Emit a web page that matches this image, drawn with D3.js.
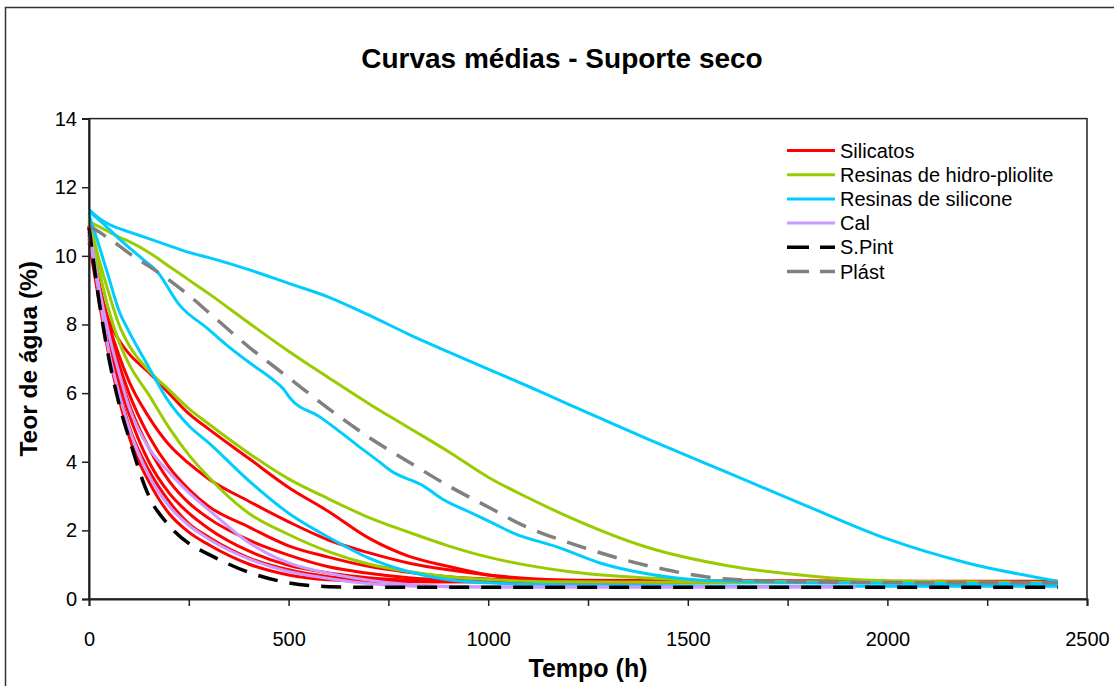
<!DOCTYPE html>
<html>
<head>
<meta charset="utf-8">
<script src="https://cdn.jsdelivr.net/npm/d3@7"></script>
<style>
  html, body { margin: 0; padding: 0; background: #fff; }
  svg { display: block; font-family: "Liberation Sans", Arial, sans-serif; }
</style>
</head>
<body>
<svg id="chart" width="1114" height="686"></svg>
<script>
// ---------------- DATA ----------------
const chartTitle = "Curvas médias - Suporte seco";
const xTitle = "Tempo (h)";
const yTitle = "Teor de água (%)";
const xTicks = [0, 250, 500, 750, 1000, 1250, 1500, 1750, 2000, 2250, 2500];
const xTickLabels = ["0", "", "500", "", "1000", "", "1500", "", "2000", "", "2500"];
const yTicks = [0, 2, 4, 6, 8, 10, 12, 14];
const yTickLabels = ["0", "2", "4", "6", "8", "10", "12", "14"];

const legendNames = ["Silicatos", "Resinas de hidro-pliolite", "Resinas de silicone", "Cal", "S.Pint", "Plást"];

// common time grid (h)
const timeGrid = [0, 25, 50, 75, 100, 150, 200, 250, 300, 400, 500, 600, 700, 800, 900, 1000, 1100, 1200, 1400, 1600, 1800, 2000, 2200, 2427];
const timeCal = [0, 25, 50, 75, 100, 150, 200, 250, 300, 400, 500, 600, 700, 800, 900, 1000, 1100, 1200, 1400, 1600, 1800, 1920];
const timeSilicone2 = [0, 30, 80, 130, 170, 228, 295, 345, 404, 460, 487, 504, 579, 620, 670, 729, 754, 837, 887, 950, 1005, 1063, 1172, 1280, 1405, 1530, 1656, 1800, 2000, 2200, 2427];

// Silicatos
const silicatos1 = [10.9, 9.2, 8.1, 7.55, 7.15, 6.6, 6.0, 5.4, 4.95, 4.1, 3.25, 2.55, 1.78, 1.25, 0.95, 0.7, 0.57, 0.55, 0.54, 0.53, 0.53, 0.52, 0.52, 0.52];
const silicatos2 = [10.8, 9.2, 8.0, 7.1, 6.35, 5.3, 4.5, 3.95, 3.5, 2.85, 2.25, 1.72, 1.35, 1.05, 0.85, 0.7, 0.6, 0.55, 0.52, 0.5, 0.5, 0.5, 0.5, 0.5];
const silicatos3 = [10.8, 9.1, 7.85, 6.85, 6.0, 4.75, 3.85, 3.2, 2.7, 2.1, 1.55, 1.22, 0.95, 0.78, 0.65, 0.58, 0.55, 0.52, 0.5, 0.5, 0.5, 0.5, 0.5, 0.5];
const silicatos4 = [10.7, 9.0, 7.7, 6.6, 5.7, 4.4, 3.45, 2.8, 2.35, 1.72, 1.28, 0.94, 0.75, 0.62, 0.55, 0.52, 0.5, 0.5, 0.5, 0.5, 0.5, 0.5, 0.5, 0.5];
const silicatos5 = [10.6, 8.9, 7.5, 6.35, 5.4, 4.0, 3.1, 2.5, 2.05, 1.4, 0.98, 0.76, 0.62, 0.55, 0.52, 0.5, 0.5, 0.5, 0.5, 0.5, 0.5, 0.5, 0.5, 0.5];
const silicatos6 = [10.5, 8.8, 7.3, 6.1, 5.05, 3.75, 2.85, 2.2, 1.8, 1.2, 0.85, 0.65, 0.56, 0.52, 0.5, 0.5, 0.5, 0.5, 0.5, 0.5, 0.5, 0.5, 0.5, 0.5];
const silicatos7 = [10.4, 8.7, 7.1, 5.85, 4.75, 3.42, 2.5, 1.95, 1.58, 1.02, 0.7, 0.56, 0.52, 0.5, 0.5, 0.5, 0.5, 0.5, 0.5, 0.5, 0.5, 0.5, 0.5, 0.5];

// Resinas de hidro-pliolite
const pliolite1 = [11.0, 10.85, 10.7, 10.55, 10.42, 10.1, 9.7, 9.3, 8.9, 8.05, 7.22, 6.45, 5.7, 5.0, 4.3, 3.55, 2.95, 2.4, 1.5, 0.97, 0.68, 0.53, 0.5, 0.48];
const pliolite2 = [11.1, 9.9, 8.9, 8.0, 7.4, 6.65, 6.1, 5.55, 5.1, 4.25, 3.5, 2.92, 2.38, 1.95, 1.55, 1.22, 0.98, 0.8, 0.61, 0.52, 0.5, 0.49, 0.48, 0.48];
const pliolite3 = [11.0, 9.6, 8.4, 7.5, 6.85, 5.95, 5.0, 4.2, 3.55, 2.5, 1.88, 1.38, 1.02, 0.8, 0.65, 0.57, 0.52, 0.5, 0.49, 0.48, 0.48, 0.48, 0.48, 0.48];

// Resinas de silicone
const silicone1 = [11.35, 11.1, 10.92, 10.8, 10.7, 10.5, 10.3, 10.1, 9.95, 9.6, 9.2, 8.8, 8.28, 7.72, 7.2, 6.7, 6.2, 5.68, 4.66, 3.68, 2.7, 1.75, 1.05, 0.52];
const silicone2 = [11.3, 11.0, 10.45, 9.95, 9.55, 8.55, 7.9, 7.4, 6.87, 6.4, 6.12, 5.85, 5.3, 4.95, 4.5, 3.98, 3.75, 3.3, 2.9, 2.55, 2.25, 1.92, 1.52, 1.05, 0.72, 0.55, 0.5, 0.47, 0.46, 0.45, 0.45];
const silicone3 = [11.2, 10.3, 9.35, 8.4, 7.8, 6.75, 5.75, 5.05, 4.55, 3.45, 2.5, 1.8, 1.2, 0.8, 0.56, 0.47, 0.43, 0.41, 0.39, 0.38, 0.37, 0.37, 0.37, 0.37];

// Cal
const cal1 = [10.6, 8.9, 7.2, 6.0, 5.0, 3.6, 2.72, 2.15, 1.75, 1.17, 0.8, 0.6, 0.45, 0.38, 0.36, 0.35, 0.35, 0.35, 0.35, 0.35, 0.35, 0.35];
const cal2 = [10.9, 9.1, 7.7, 6.6, 5.6, 4.4, 3.7, 3.1, 2.6, 1.65, 1.05, 0.75, 0.55, 0.42, 0.37, 0.35, 0.35, 0.35, 0.35, 0.35, 0.35, 0.35];

// S.Pint and Plást
const sPint = [10.85, 8.7, 7.0, 5.7, 4.7, 3.0, 2.15, 1.62, 1.3, 0.78, 0.47, 0.36, 0.34, 0.34, 0.34, 0.34, 0.34, 0.34, 0.34, 0.34, 0.34, 0.34, 0.34, 0.34];
const plast = [10.88, 10.7, 10.5, 10.3, 10.08, 9.7, 9.3, 8.85, 8.35, 7.35, 6.45, 5.55, 4.72, 4.0, 3.3, 2.68, 2.08, 1.65, 0.97, 0.58, 0.5, 0.48, 0.47, 0.47];

// colours
const cRed = "#FF0000", cGreen = "#99CC00", cCyan = "#00CCFF", cPurple = "#CC99FF", cBlack = "#000000", cGray = "#808080";

// series table built from the arrays above (drawing order)
const series = [
  { t: timeGrid, v: silicatos1, color: cRed },
  { t: timeGrid, v: silicatos2, color: cRed },
  { t: timeGrid, v: silicatos3, color: cRed },
  { t: timeGrid, v: silicatos4, color: cRed },
  { t: timeGrid, v: silicatos5, color: cRed },
  { t: timeGrid, v: silicatos6, color: cRed },
  { t: timeGrid, v: silicatos7, color: cRed },
  { t: timeGrid, v: pliolite1, color: cGreen },
  { t: timeGrid, v: pliolite2, color: cGreen },
  { t: timeGrid, v: pliolite3, color: cGreen },
  { t: timeGrid, v: silicone1, color: cCyan },
  { t: timeSilicone2, v: silicone2, color: cCyan },
  { t: timeGrid, v: silicone3, color: cCyan },
  { t: timeCal, v: cal1, color: cPurple },
  { t: timeCal, v: cal2, color: cPurple },
  { t: timeGrid, v: sPint, color: cBlack, dash: true },
  { t: timeGrid, v: plast, color: cGray, dash: true }
];
const legendStyles = [
  { color: cRed }, { color: cGreen }, { color: cCyan }, { color: cPurple },
  { color: cBlack, dash: true }, { color: cGray, dash: true }
];

// ---------------- LAYOUT ----------------
const svg = d3.select("#chart");
const plot = { left: 89, right: 1087, top: 118.6, bottom: 599 };

// outer chart border
svg.append("rect")
  .attr("x", 5.5).attr("y", 7.5).attr("width", 1130).attr("height", 700)
  .attr("fill", "#fff").attr("stroke", "#333").attr("stroke-width", 1.5);

const x = d3.scaleLinear().domain([0, 2500]).range([plot.left, plot.right]);
const y = d3.scaleLinear().domain([0, 14]).range([plot.bottom, plot.top]);

// plot area frame
svg.append("rect")
  .attr("x", plot.left).attr("y", plot.top)
  .attr("width", plot.right - plot.left).attr("height", plot.bottom - plot.top)
  .attr("fill", "#fff").attr("stroke", "#222").attr("stroke-width", 1.5);

// title
svg.append("text")
  .attr("x", 562).attr("y", 68)
  .attr("text-anchor", "middle")
  .attr("font-size", 28).attr("font-weight", "bold")
  .text(chartTitle);

// lines
const line = d3.line()
  .x(d => x(d[0])).y(d => y(d[1]))
  .curve(d3.curveMonotoneX);

const gLines = svg.append("g");
series.forEach(s => {
  const pts = s.t.map((tt, i) => [tt, s.v[i]]);
  gLines.append("path")
    .attr("d", line(pts))
    .attr("fill", "none")
    .attr("stroke", s.color)
    .attr("stroke-width", s.dash ? 3.5 : 3)
    .attr("stroke-dasharray", s.dash ? "20,12" : null)
    .attr("stroke-linejoin", "round");
});

// axes
const yAxis = d3.axisLeft(y).tickValues(yTicks)
  .tickFormat((d, i) => yTickLabels[i]).tickSize(7).tickPadding(5);
const gy = svg.append("g").attr("transform", `translate(${plot.left},0)`).call(yAxis);

const xAxis = d3.axisBottom(x).tickValues(xTicks)
  .tickFormat((d, i) => xTickLabels[i]).tickSize(7).tickPadding(26);
const gx = svg.append("g").attr("transform", `translate(0,${plot.bottom})`).call(xAxis);

[gx, gy].forEach(g => {
  g.select(".domain").attr("stroke", "#222").attr("stroke-width", 2);
  g.selectAll(".tick line").attr("stroke", "#222").attr("stroke-width", 1.5);
  g.selectAll(".tick text").attr("font-size", 20).attr("fill", "#000")
    .attr("font-family", "'Liberation Sans', Arial, sans-serif");
});

// axis titles
svg.append("text")
  .attr("x", (plot.left + plot.right) / 2).attr("y", 677)
  .attr("text-anchor", "middle")
  .attr("font-size", 25).attr("font-weight", "bold")
  .text(xTitle);

svg.append("text")
  .attr("transform", `translate(37,${(plot.top + plot.bottom) / 2}) rotate(-90)`)
  .attr("text-anchor", "middle")
  .attr("font-size", 24.5).attr("font-weight", "bold")
  .text(yTitle);

// legend
const legend = svg.append("g");
legendNames.forEach((name, i) => {
  const yy = 150.5 + i * 24.2;
  const st = legendStyles[i];
  legend.append("line")
    .attr("x1", 787).attr("x2", 835).attr("y1", yy).attr("y2", yy)
    .attr("stroke", st.color).attr("stroke-width", st.dash ? 3.5 : 3)
    .attr("stroke-dasharray", st.dash ? "22,11" : null);
  legend.append("text")
    .attr("x", 840).attr("y", yy).attr("dy", "0.35em")
    .attr("font-size", 20)
    .text(name);
});
</script>
</body>
</html>
